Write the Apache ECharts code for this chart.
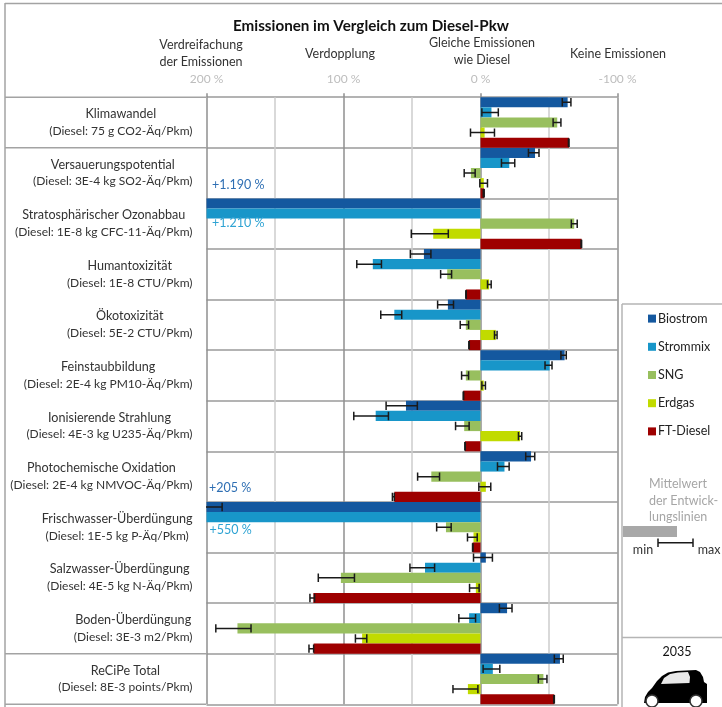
<!DOCTYPE html>
<html><head><meta charset="utf-8">
<style>html,body{margin:0;padding:0;background:#fff}#c{width:722px;height:707px}</style>
<script src="https://cdn.jsdelivr.net/npm/echarts@6/dist/echarts.min.js"></script>
</head><body><div id="c"></div>
<script>
const categories = [
 ['Klimawandel','(Diesel: 75 g CO2-Äq/Pkm)'],
 ['Versauerungspotential','(Diesel: 3E-4 kg SO2-Äq/Pkm)'],
 ['Stratosphärischer Ozonabbau','(Diesel: 1E-8 kg CFC-11-Äq/Pkm)'],
 ['Humantoxizität','(Diesel: 1E-8 CTU/Pkm)'],
 ['Ökotoxizität','(Diesel: 5E-2 CTU/Pkm)'],
 ['Feinstaubbildung','(Diesel: 2E-4 kg PM10-Äq/Pkm)'],
 ['Ionisierende Strahlung','(Diesel: 4E-3 kg U235-Äq/Pkm)'],
 ['Photochemische Oxidation','(Diesel: 2E-4 kg NMVOC-Äq/Pkm)'],
 ['Frischwasser-Überdüngung','(Diesel: 1E-5 kg P-Äq/Pkm)'],
 ['Salzwasser-Überdüngung','(Diesel: 4E-5 kg N-Äq/Pkm)'],
 ['Boden-Überdüngung','(Diesel: 3E-3 m2/Pkm)'],
 ['ReCiPe Total','(Diesel: 8E-3 points/Pkm)']
];
const xTicks = [200,100,0,-100];
const seriesNames = ['Biostrom','Strommix','SNG','Erdgas','FT-Diesel'];
const seriesColors = ['#14589f','#1896c9','#98bf5e','#c1db00','#9e0000'];

const biostromMean = [-63.6,-39.8,1190,41.3,23.8,-61.4,54.4,-36.9,205,-3.9,-19.4,-58];
const biostromLow  = [-59.7,-35,null,36.2,19.7,-58.7,46.1,-33,188.6,5.1,-13.8,-53.9];
const biostromHigh = [-66,-42.7,null,51.2,31.3,-62.6,68.9,-39.6,230,-8.7,-23,-60.4];

const strommixMean = [-8,-21,1210,78.6,62.9,-50.5,76.5,-17.5,550,40.5,8.3,-9];
const strommixLow  = [-1,-15.3,null,72.3,57.5,-47.1,67.2,-12.4,null,33.5,3.6,-1.9];
const strommixHigh = [-13,-25,null,90.3,72.8,-52.2,92.5,-20.9,null,51.5,15.8,-14.1];

const sngMean = [-56,7,-68.4,24.3,10.7,10.7,11.9,35.9,25.2,101.9,177.4,-45.9];
const sngLow  = [-53,3.9,-66.3,21.1,8.7,8.7,8.3,29.9,21.4,92,167.5,-42.2];
const sngHigh = [-58.7,11.9,-70.6,29.1,14.8,13.8,18.2,45.9,32,118.4,193.2,-48.5];

const erdgasMean = [-3,-2.4,34.5,-6.3,-11.2,-2.4,-28.9,-3.9,5.1,3.4,86.4,9.2];
const erdgasLow  = [7.3,0.5,23.5,-5.1,-10.2,-1,-27.7,1.2,2.4,1,83,1.9];
const erdgasHigh = [-10.2,-5.1,50.5,-7.8,-12.1,-3.6,-30.1,-7.5,9.5,8,91.3,20.1];

const ftMean = [-64.6,-2.7,-73.8,10.7,8.5,12.6,11.4,62.9,5.8,122,121.8,-53.9];
const ftLow  = [-64.2,-2,-73.4,10.4,8.2,12.3,11.1,62.9,5.5,121.1,121.8,-53.5];
const ftHigh = [-64.6,-2.7,-73.8,10.7,8.5,12.6,11.4,64.3,5.8,124.5,125.2,-53.9];

const means = [biostromMean,strommixMean,sngMean,erdgasMean,ftMean];
const lows  = [biostromLow,strommixLow,sngLow,erdgasLow,ftLow];
const highs = [biostromHigh,strommixHigh,sngHigh,erdgasHigh,ftHigh];

const FONT = 'Lato, "Open Sans", sans-serif';
const GRID = {left:206.5, right:104.5, top:97.2, height:607.1};
const INK = '#1a1a1a', LINE = '#a3a3a3';

const barSeries = seriesNames.map((n,i)=>({
  name:n, type:'bar', data:means[i], barGap:'0%', barCategoryGap:'0%',
  itemStyle:{color:seriesColors[i]}, z:2, silent:true
}));
const errSeries = seriesNames.map((n,i)=>({
  name:n, type:'custom', clip:true, z:3, silent:true,
  encode:{x:[1,2], y:0},
  data:categories.map((c,k)=>[k,lows[i][k],highs[i][k]]).filter(d=>d[1]!==null),
  renderItem:(p,api)=>{
    const k=api.value(0);
    const a=api.coord([api.value(1),k]), b=api.coord([api.value(2),k]);
    const band=api.size([0,1])[1];
    const y=a[1]+(i-2)*band/5;
    const st={stroke:INK,lineWidth:1.5,fill:null};
    return {type:'group',children:[
      {type:'line',shape:{x1:a[0],y1:y,x2:b[0],y2:y},style:st},
      {type:'line',shape:{x1:a[0],y1:y-4.2,x2:a[0],y2:y+4.2},style:st},
      {type:'line',shape:{x1:b[0],y1:y-4.2,x2:b[0],y2:y+4.2},style:st}
    ]};
  }
}));

function txt(x,y,t,o){return {type:'text',x,y,silent:true,z:20,
  style:Object.assign({text:t,font:'12.5px '+FONT,fill:'#333',align:'center',verticalAlign:'middle',lineHeight:17},o||{})};}
function ln(x1,y1,x2,y2,c,w){return {type:'line',silent:true,z:1,shape:{x1,y1,x2,y2},style:{stroke:c||LINE,lineWidth:w||1.5}};}

const graphics = [
  ln(5,3.5,722,3.5), ln(5,3,5,707),
  ln(5,97.2,206,97.2), ln(5,147.8,206,147.8), ln(5,653.7,206,653.7), ln(5,704.3,206,704.3),
  ln(622,304,722,304,'#b5b5b5'), ln(622,304,622,707,'#b5b5b5'), ln(622,637.5,722,637.5,'#b5b5b5'),
  txt(371,26,'Emissionen im Vergleich zum Diesel-Pkw',{font:'bold 15.2px '+FONT,fill:'#111'}),
  txt(201,53,'Verdreifachung\nder Emissionen'),
  txt(340,54,'Verdopplung'),
  txt(482,51.5,'Gleiche Emissionen\nwie Diesel'),
  txt(618,54,'Keine Emissionen'),
  txt(212,185,'+1.190 %',{align:'left',fill:'#2f6fb3'}),
  txt(212,223,'+1.210 %',{align:'left',fill:'#2ea3d3'}),
  txt(209,488,'+205 %',{align:'left',fill:'#2f6fb3'}),
  txt(209.5,530,'+550 %',{align:'left',fill:'#2ea3d3'}),
  txt(649,500.5,'Mittelwert\nder Entwick-\nlungslinien',{align:'left',fill:'#a6a6a6',lineHeight:16.5}),
  {type:'rect',silent:true,z:5,shape:{x:623,y:526,width:54,height:11},style:{fill:'#a8a8a8'}},
  txt(643,550,'min'), txt(709,550,'max'),
  Object.assign(ln(658,542.7,693,542.7,INK,1.5),{z:20}),
  Object.assign(ln(658,538.5,658,547,INK,1.5),{z:20}),
  Object.assign(ln(693,538.5,693,547,INK,1.5),{z:20}),
  txt(677,652,'2035',{fill:'#111'}),
  {type:'polygon',silent:true,z:20,shape:{smooth:0,points:[[644,703],[645,697],[648,692],[652,688],[657,681],[662,676],[668,672.5],[676,671],[696,670],[700,672],[703,677],[704,682],[707,684],[707,703]]},style:{fill:'#000'}},
  {type:'polygon',silent:true,z:21,shape:{points:[[661,684],[664,678],[670,674],[678,672.5],[688,672],[690,677],[689.5,683]]},style:{fill:'#e8e8e8'}},
  {type:'circle',silent:true,z:21,shape:{cx:652,cy:701,r:6},style:{fill:'#fff',stroke:'#333',lineWidth:1.5}},
  {type:'circle',silent:true,z:21,shape:{cx:696,cy:701,r:6},style:{fill:'#fff',stroke:'#333',lineWidth:1.5}}
];

const chart = echarts.init(document.getElementById('c'),null,{renderer:'canvas'});
chart.setOption({
  animation:false,
  textStyle:{fontFamily:FONT},
  grid:GRID,
  legend:{
    orient:'vertical', left:648, top:312, padding:0, itemWidth:8, itemHeight:8, itemGap:15,
    icon:'rect', data:seriesNames, selectedMode:false,
    textStyle:{fontFamily:FONT,fontSize:12.5,color:'#222',lineHeight:13.2,height:13.2,padding:[0,0,0,-3]}
  },
  xAxis:{
    type:'value', position:'top', inverse:true, min:-100, max:200, interval:100,
    axisLine:{show:false},
    axisTick:{show:true,length:4,lineStyle:{color:'#8f8f8f',width:1.5}},
    minorTick:{show:false,splitNumber:2},
    axisLabel:{margin:12,color:'#bdbdbd',fontSize:12,fontFamily:FONT,
      formatter:v=>xTicks.includes(v)?v+' %':''},
    splitLine:{show:true,lineStyle:{color:'#8f8f8f',width:1.5}},
    minorSplitLine:{show:true,lineStyle:{color:'#cdcdcd',width:1.5}}
  },
  yAxis:{
    type:'category', inverse:true, data:categories.map(c=>c[0]+'|'+c[1]),
    axisLine:{show:false}, axisTick:{show:false},
    splitLine:{show:true,lineStyle:{color:'#9a9a9a',width:1.5}},
    axisLabel:{
      interval:0, margin:14, align:'right',
      formatter:v=>{const p=v.split('|');return '{a|'+p[0]+'}\n{b|'+p[1]+'}';},
      rich:{
        a:{align:'center',fontFamily:FONT,fontSize:12.6,color:'#333',lineHeight:17},
        b:{align:'center',fontFamily:FONT,fontSize:12,color:'#333',lineHeight:17}
      }
    }
  },
  series:[...barSeries,...errSeries],
  graphic:graphics
});
</script></body></html>
